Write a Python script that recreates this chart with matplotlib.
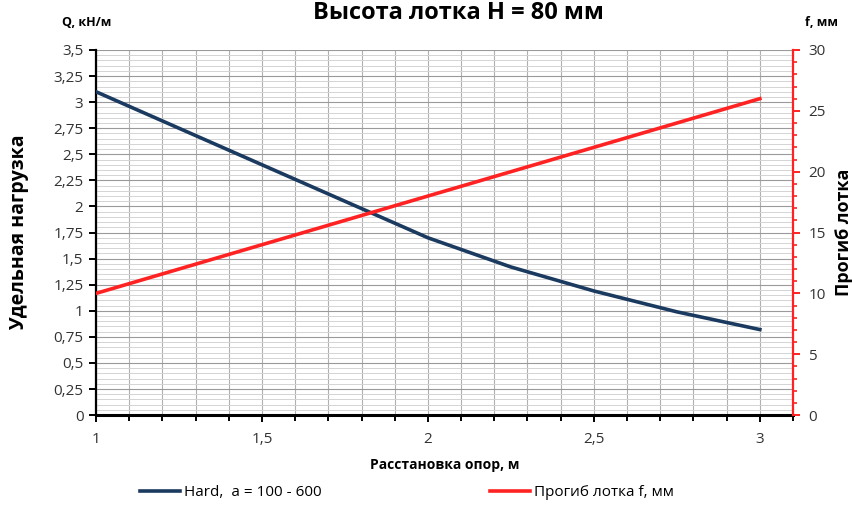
import matplotlib

matplotlib.use("Agg")
from matplotlib import pyplot as plt
from matplotlib.ticker import MultipleLocator, FuncFormatter
import numpy as np

# data
span = [1.0, 1.25, 1.5, 1.75, 2.0, 2.25, 2.5, 2.75, 3.0]
load_q = [3.1, 2.75, 2.4, 2.05, 1.7, 1.42, 1.19, 0.99, 0.82]
deflection = [10, 12, 14, 16, 18, 20, 22, 24, 26]

title = "Высота лотка H = 80 мм"
label_q = "Hard,  a = 100 - 600"
label_f = "Прогиб лотка f, мм"

blue = "#1b3a60"
red = "#ff2222"

plt.rcParams["font.family"] = ["Open Sans", "DejaVu Sans"]


def comma(v, pos):
    s = f"{v:g}"
    return s.replace(".", ",")


fig = plt.figure(figsize=(8.53, 5.05), dpi=100)
ax = fig.add_axes([0.1125, 0.178, 0.8172, 0.723])
ax2 = ax.twinx()

(l1,) = ax.plot(span, load_q, color=blue, lw=2.6, label=label_q, zorder=5)
(l2,) = ax2.plot(span, deflection, color=red, lw=2.6, label=label_f, zorder=5)

ax.set_xlim(1, 3.1)
ax.set_ylim(0, 3.5)
ax2.set_ylim(0, 30)

ax.xaxis.set_major_locator(MultipleLocator(0.5))
ax.xaxis.set_minor_locator(MultipleLocator(0.1))
ax.yaxis.set_major_locator(MultipleLocator(0.25))
ax.yaxis.set_minor_locator(MultipleLocator(0.05))
ax2.yaxis.set_major_locator(MultipleLocator(5))
ax2.yaxis.set_minor_locator(MultipleLocator(1))
ax.xaxis.set_major_formatter(FuncFormatter(comma))
ax.yaxis.set_major_formatter(FuncFormatter(comma))

ax.grid(which="major", axis="y", color="#9a9a9a", lw=0.8)
ax.grid(which="minor", axis="y", color="#d4d4d4", lw=0.7)
ax.grid(which="both", axis="x", color="#b0b0b0", lw=0.8)
ax.set_axisbelow(True)

for s in ["top", "right"]:
    ax.spines[s].set_visible(False)
ax2.spines["top"].set_visible(False)
ax2.spines["left"].set_visible(False)
ax2.spines["bottom"].set_visible(False)
ax.spines["left"].set_linewidth(1.6)
ax.spines["bottom"].set_linewidth(2.2)
ax2.spines["right"].set_color(red)
ax2.spines["right"].set_linewidth(1.6)

ax.tick_params(axis="y", which="major", length=5, width=1.4, labelsize=11,
               labelcolor="#333333", pad=4)
ax.tick_params(axis="y", which="minor", length=0)
ax.tick_params(axis="x", which="major", length=5, width=1.4, labelsize=11,
               labelcolor="#333333", pad=7)
ax.tick_params(axis="x", which="minor", length=4, width=1.4)
ax2.tick_params(axis="y", which="major", length=5, width=1.4, color=red,
                labelsize=11, labelcolor="#333333", pad=6)
ax2.tick_params(axis="y", which="minor", length=3, width=1.2, color=red)

ax.set_xlabel("Расстановка опор, м", fontsize=10, fontweight="bold", labelpad=8)
fig.text(0.022, 0.54, "Удельная нагрузка", rotation=90, fontsize=14,
         fontweight="bold", ha="center", va="center")
fig.text(0.99, 0.54, "Прогиб лотка", rotation=90, fontsize=13,
         fontweight="bold", ha="center", va="center")
fig.text(0.537, 0.963, title, fontsize=17, fontweight="bold",
         ha="center", va="baseline")
fig.text(0.073, 0.955, "Q, кН/м", fontsize=9, fontweight="bold",
         ha="left", va="center")
fig.text(0.944, 0.955, "f, мм", fontsize=9, fontweight="bold",
         ha="left", va="center")

fig.legend([l1, l2], [label_q, label_f], loc="center", ncol=2,
           bbox_to_anchor=(0.477, 0.024), frameon=False, fontsize=11,
           handlelength=2.6, columnspacing=11, handletextpad=0.3)

fig.savefig("out.png", dpi=100)
plt.close(fig)
